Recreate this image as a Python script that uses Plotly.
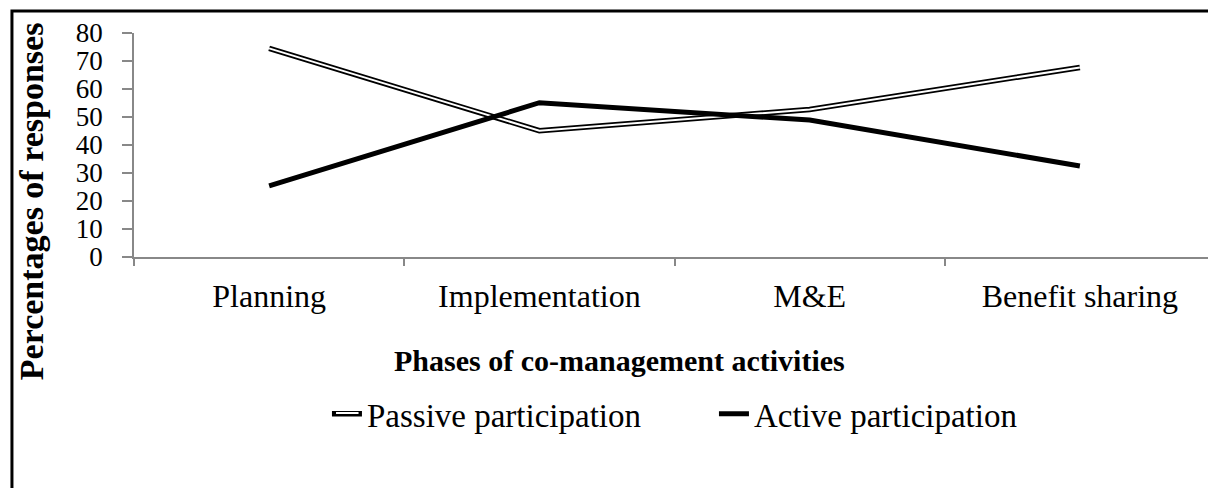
import plotly.graph_objects as go

categories = ["Planning", "Implementation", "M&E", "Benefit sharing"]
passive = [74.5, 45.1, 52.7, 67.7]
active = [25.4, 55.1, 48.9, 32.5]
y_ticks = [0, 10, 20, 30, 40, 50, 60, 70, 80]

FONT = "Liberation Serif"
AXIS_GREY = "#888888"

fig = go.Figure()
# Passive: black outline + white core (double line)
fig.add_trace(go.Scatter(x=categories, y=passive, mode="lines", name="Passive participation",
                         line=dict(color="black", width=5.5)))
fig.add_trace(go.Scatter(x=categories, y=passive, mode="lines", name="Passive participation",
                         line=dict(color="white", width=2), showlegend=False,
                         hoverinfo="skip"))
fig.add_trace(go.Scatter(x=categories, y=active, mode="lines", name="Active participation",
                         line=dict(color="black", width=5)))

fig.update_layout(
    width=1208, height=480,
    margin=dict(l=126, r=1, t=25, b=231),
    paper_bgcolor="white", plot_bgcolor="white",
    font=dict(family=FONT, color="black"),
    showlegend=True,
    legend=dict(orientation="h", x=0.5365, xanchor="center", y=-0.70, yanchor="middle",
                entrywidth=342, entrywidthmode="pixels",
                font=dict(family=FONT, size=33, color="black"), bgcolor="rgba(0,0,0,0)"),
    xaxis=dict(type="category", range=[-0.5, 3.5], tickson="boundaries",
               showline=True, linecolor=AXIS_GREY, linewidth=1.5,
               ticks="outside", ticklen=7, tickcolor=AXIS_GREY, tickwidth=1.5,
               ticklabelstandoff=10,
               showgrid=False, zeroline=False,
               tickfont=dict(family=FONT, size=32, color="black")),
    yaxis=dict(range=[0, 80], tickvals=y_ticks, ticktext=[str(v) for v in y_ticks],
               showline=True, linecolor=AXIS_GREY, linewidth=1.5,
               ticks="outside", ticklen=10, tickcolor=AXIS_GREY, tickwidth=1.5,
               ticklabelstandoff=14,
               showgrid=False, zeroline=False,
               tickfont=dict(family=FONT, size=27, color="black")),
    annotations=[
        dict(text="<b>Phases of co-management activities</b>", xref="paper", yref="paper",
             x=0.4487, y=-0.462, xanchor="center", yanchor="middle", showarrow=False,
             font=dict(family=FONT, size=30, color="black")),
        dict(text="<b>Percentages of responses</b>", xref="paper", yref="paper",
             x=-0.0953, y=0.249, xanchor="center", yanchor="middle", showarrow=False,
             textangle=-90, font=dict(family=FONT, size=34, color="black")),
        # white core of the passive legend symbol (double line look)
        dict(text=" ", xref="paper", yref="paper", x=0.1869, y=-0.6964,
             showarrow=True, arrowhead=0, arrowwidth=2, arrowcolor="white",
             ax=24, ay=0, standoff=0, startstandoff=0, font=dict(size=1)),
    ],
    shapes=[
        dict(type="rect", xref="paper", yref="paper", x0=-0.1129, x1=1.02, y0=-1.2, y1=1.0978,
             line=dict(color="black", width=3), fillcolor="rgba(0,0,0,0)", layer="above"),
    ],
)

fig.write_html("out.html")
